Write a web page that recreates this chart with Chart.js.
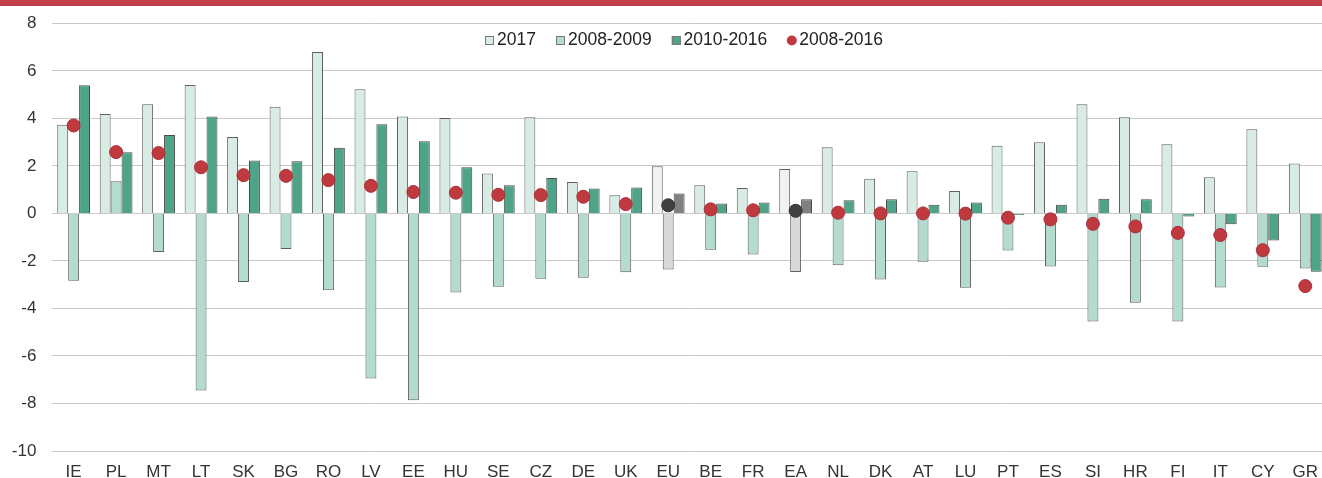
<!DOCTYPE html>
<html><head><meta charset="utf-8">
<script src="https://cdn.jsdelivr.net/npm/chart.js@4/dist/chart.umd.min.js"></script>
<style>
html,body{margin:0;padding:0;background:#fff;overflow:hidden;}
#wrap{position:relative;width:1334px;height:478px;}
</style></head>
<body><div id="wrap"><canvas id="c" width="1334" height="478"></canvas></div>
<script>
const categories = ['IE','PL','MT','LT','SK','BG','RO','LV','EE','HU','SE','CZ','DE','UK','EU','BE','FR','EA','NL','DK','AT','LU','PT','ES','SI','HR','FI','IT','CY','GR'];
const v2017 = [3.73,4.18,4.59,5.40,3.21,4.49,6.79,5.22,4.08,4.01,1.68,4.05,1.32,0.76,1.98,1.18,1.07,1.87,2.78,1.46,1.77,0.94,2.85,2.99,4.59,4.05,2.91,1.52,3.54,2.10];
const v0809 = [-2.84,1.35,-1.62,-7.45,-2.89,-1.50,-3.24,-6.95,-7.86,-3.33,-3.09,-2.75,-2.71,-2.48,-2.36,-1.53,-1.73,-2.47,-2.18,-2.78,-2.04,-3.13,-1.56,-2.23,-4.55,-3.76,-4.55,-3.12,-2.25,-2.32];
const v1016 = [5.39,2.57,3.30,4.08,2.23,2.19,2.76,3.75,3.04,1.94,1.18,1.49,1.05,1.09,0.84,0.42,0.46,0.59,0.55,0.59,0.36,0.46,-0.07,0.36,0.62,0.59,-0.13,-0.46,-1.14,-2.46];
const v0816 = [3.70,2.58,2.54,1.94,1.61,1.58,1.40,1.16,0.90,0.87,0.78,0.77,0.70,0.39,0.34,0.17,0.13,0.11,0.03,0.00,0.00,-0.01,-0.18,-0.25,-0.44,-0.55,-0.82,-0.91,-1.55,-3.06];
const seriesLabels = ['2017','2008-2009','2010-2016','2008-2016'];
const yTicks = [-10,-8,-6,-4,-2,0,2,4,6,8];
const aggregates = ['EU','EA'];

const FONT = '"Liberation Sans", Arial, sans-serif';
const isAgg = c => aggregates.includes(c);
const col = (normal, agg) => categories.map(c => isAgg(c) ? agg : normal);

const baseColors = ['#d9ebe5','#b3dbd0','#4fa388','#c0393f'];

const topBand = {
  id:'topBand',
  beforeDraw(chart){
    const ctx = chart.ctx;
    ctx.save(); ctx.fillStyle = '#c0404a'; ctx.fillRect(0,0,chart.width,6); ctx.restore();
  }
};

const customLegend = {
  id:'customLegend',
  afterDraw(chart){
    const ctx = chart.ctx;
    ctx.save();
    ctx.font = '17.5px ' + FONT;
    const box = 9, gapText = 3, gapItem = 20;
    const widths = seriesLabels.map(l => box + gapText + ctx.measureText(l).width);
    const total = widths.reduce((a,b)=>a+b,0) + gapItem*(seriesLabels.length-1);
    let x = 684 - total/2;
    const y = 40.5;
    seriesLabels.forEach((l,i) => {
      if (i === 3) {
        ctx.beginPath(); ctx.arc(x+box/2, y, box/2+0.5, 0, Math.PI*2);
        ctx.fillStyle = baseColors[3]; ctx.fill();
      } else {
        ctx.fillStyle = baseColors[i];
        ctx.fillRect(x, y-box/2, box, box);
        ctx.strokeStyle = '#7a7a7a'; ctx.lineWidth = 1;
        ctx.strokeRect(Math.round(x)+0.5, Math.round(y-box/2)+0.5, box-1, box-1);
      }
      ctx.fillStyle = '#222'; ctx.textBaseline = 'middle'; ctx.textAlign = 'left';
      ctx.fillText(l, x+box+gapText, y);
      x += widths[i] + gapItem;
    });
    ctx.restore();
  }
};

new Chart(document.getElementById('c'), {
  data: {
    labels: categories,
    datasets: [
      {type:'bar', label:seriesLabels[0], data:v2017, order:1,
       backgroundColor: col(baseColors[0], '#f2f2f2'), borderColor:'#5f5f5f', borderWidth:1},
      {type:'bar', label:seriesLabels[1], data:v0809, order:1,
       backgroundColor: col(baseColors[1], '#d9d9d9'), borderColor:'#5f5f5f', borderWidth:1},
      {type:'bar', label:seriesLabels[2], data:v1016, order:1,
       backgroundColor: col(baseColors[2], '#808080'), borderColor:'#4a4a4a', borderWidth:1},
      {type:'line', label:seriesLabels[3], data:v0816, order:0, showLine:false,
       pointRadius:6.5, pointHoverRadius:6.5, pointBorderWidth:1,
       pointBackgroundColor: col(baseColors[3], '#404040'),
       pointBorderColor: col('#a83238', '#333333')}
    ]
  },
  options: {
    responsive:false, animation:false,
    events:[],
    layout:{padding:{top:23.3, left:0, right:0, bottom:0}},
    datasets:{bar:{categoryPercentage:0.772, barPercentage:1.0}},
    plugins:{legend:{display:false}, tooltip:{enabled:false}},
    scales:{
      x:{
        afterFit(scale){ scale.height = 27; },
        grid:{display:false, drawTicks:false}, border:{display:false},
        ticks:{color:'#333', font:{family:FONT, size:17, lineHeight:1}, padding:13, maxRotation:0, autoSkip:false}
      },
      y:{
        min:-10, max:8,
        afterBuildTicks(scale){ scale.ticks = yTicks.map(v=>({value:v})); },
        afterFit(scale){ scale.width = 52.4; scale.paddingTop = 0; scale.paddingBottom = 0; },
        grid:{color:'#c8c8c8', lineWidth:1, drawTicks:false}, border:{display:false},
        ticks:{color:'#333', font:{family:FONT, size:17}, padding:16}
      }
    }
  },
  plugins:[topBand, customLegend]
});
</script>
</body></html>
